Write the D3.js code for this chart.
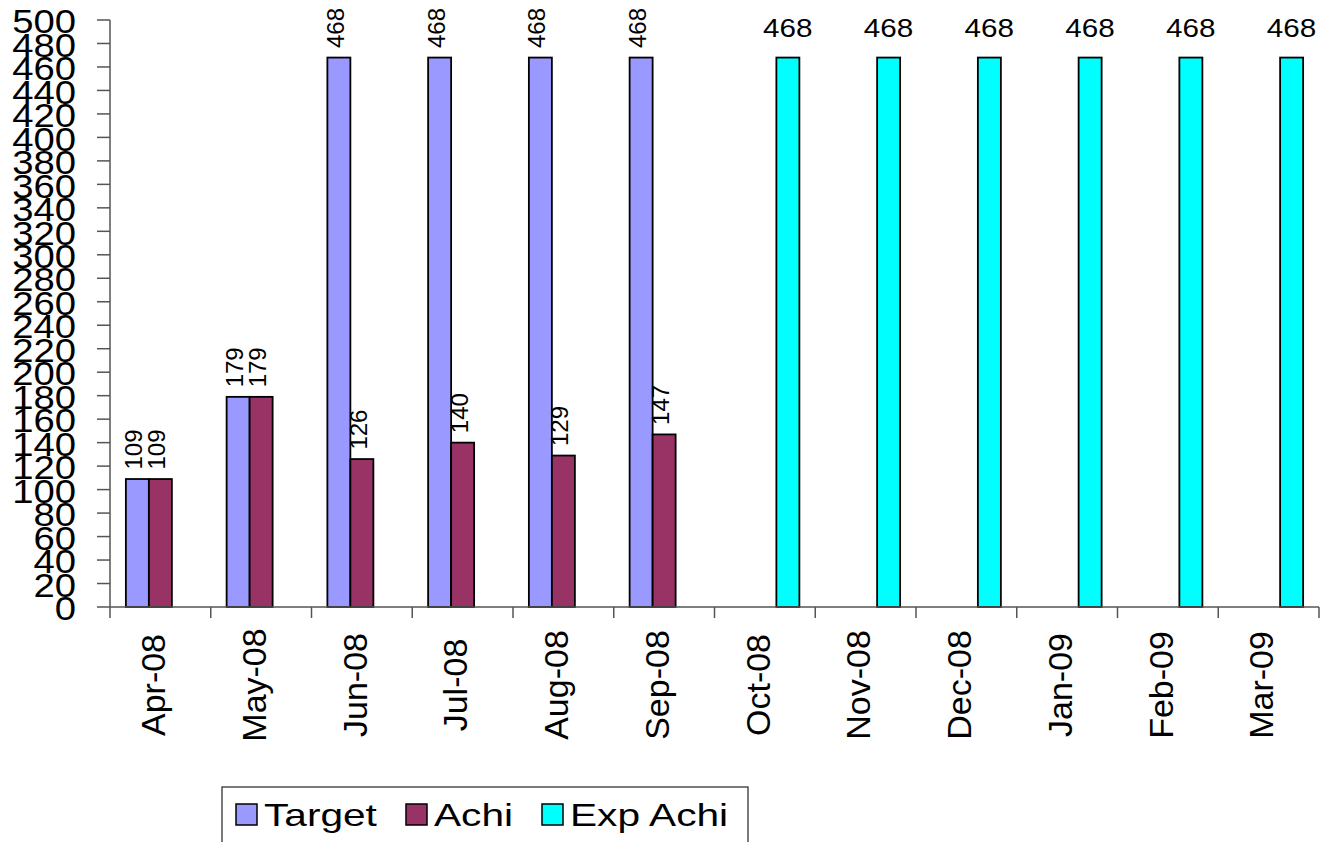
<!DOCTYPE html>
<html>
<head>
<meta charset="utf-8">
<script src="https://cdn.jsdelivr.net/npm/d3@7"></script>
<style>
  body { margin: 0; background: #fff; }
  svg { display: block; font-family: "Liberation Sans", Arial, sans-serif; }
</style>
</head>
<body>
<svg id="chart" width="1322" height="842"></svg>
<script>
// Chart data
const months = ['Apr-08', 'May-08', 'Jun-08', 'Jul-08', 'Aug-08', 'Sep-08',
                'Oct-08', 'Nov-08', 'Dec-08', 'Jan-09', 'Feb-09', 'Mar-09'];
const seriesNames = ['Target', 'Achi', 'Exp Achi'];
const targetValues = [109, 179, 468, 468, 468, 468, null, null, null, null, null, null];
const achiValues = [109, 179, 126, 140, 129, 147, null, null, null, null, null, null];
const expAchiValues = [null, null, null, null, null, null, 468, 468, 468, 468, 468, 468];
const yTicks = d3.range(0, 501, 20);

const colors = ['#9999ff', '#993366', '#00ffff'];
const seriesValues = [targetValues, achiValues, expAchiValues];

let svg = d3.select('#chart');

// plot area
const plotLeft = 110, plotRight = 1319, plotTop = 20, plotBottom = 607;

let x0 = d3.scaleBand().domain(months).range([plotLeft, plotRight]).padding(0);
const cw = x0.bandwidth();
const bw = 23;
let x1 = d3.scaleBand().domain(seriesNames)
  .range([(cw - 3 * bw) / 2, (cw + 3 * bw) / 2]).padding(0);
let y = d3.scaleLinear().domain([0, 500]).range([plotBottom, plotTop]);

// y axis
let yAxis = svg.append('g');
yAxis.append('line')
  .attr('x1', plotLeft).attr('x2', plotLeft).attr('y1', plotTop).attr('y2', plotBottom)
  .attr('stroke', '#555').attr('stroke-width', 1.5);
yAxis.selectAll('line.tick').data(yTicks).enter().append('line')
  .attr('class', 'tick')
  .attr('x1', 97).attr('x2', plotLeft)
  .attr('y1', d => y(d)).attr('y2', d => y(d))
  .attr('stroke', '#555').attr('stroke-width', 1.5);
yAxis.selectAll('text').data(yTicks).enter().append('text')
  .attr('transform', d => `translate(76,${y(d)}) scale(1.16,1)`)
  .attr('text-anchor', 'end')
  .attr('dy', '0.4em')
  .attr('font-size', 33)
  .text(d => d);

// bars
let groups = svg.selectAll('g.month').data(months).enter().append('g')
  .attr('class', 'month')
  .attr('transform', d => `translate(${x0(d)},0)`);

seriesNames.forEach((name, si) => {
  groups.filter((d, i) => seriesValues[si][i] != null)
    .append('rect')
    .attr('x', x1(name))
    .attr('width', x1.bandwidth())
    .attr('y', d => y(seriesValues[si][months.indexOf(d)]))
    .attr('height', d => plotBottom - y(seriesValues[si][months.indexOf(d)]))
    .attr('fill', colors[si])
    .attr('stroke', '#000')
    .attr('stroke-width', 1.8);
});

// value labels: vertical for Target / Achi, horizontal for Exp Achi
[0, 1].forEach(si => {
  groups.filter((d, i) => seriesValues[si][i] != null)
    .append('text')
    .attr('transform', d => {
      let v = seriesValues[si][months.indexOf(d)];
      let cx = x1(seriesNames[si]) + x1.bandwidth() / 2;
      return `translate(${cx + 5},${y(v) - 9.5}) rotate(-90)`;
    })
    .attr('font-size', 24)
    .text(d => seriesValues[si][months.indexOf(d)]);
});
groups.filter((d, i) => expAchiValues[i] != null)
  .append('text')
  .attr('transform', d => {
    let v = expAchiValues[months.indexOf(d)];
    let cx = x1('Exp Achi') + x1.bandwidth() / 2;
    return `translate(${cx},${y(v) - 20.5}) scale(1.12,1)`;
  })
  .attr('text-anchor', 'middle')
  .attr('font-size', 26.5)
  .text(d => expAchiValues[months.indexOf(d)]);

// x axis
let xAxis = svg.append('g');
xAxis.append('line')
  .attr('x1', plotLeft).attr('x2', plotRight).attr('y1', plotBottom).attr('y2', plotBottom)
  .attr('stroke', '#555').attr('stroke-width', 1.5);
xAxis.selectAll('line.tick').data(months.concat(['end'])).enter().append('line')
  .attr('class', 'tick')
  .attr('x1', (d, i) => plotLeft + i * cw).attr('x2', (d, i) => plotLeft + i * cw)
  .attr('y1', plotBottom).attr('y2', plotBottom + 11)
  .attr('stroke', '#555').attr('stroke-width', 1.5);
xAxis.selectAll('text').data(months).enter().append('text')
  .attr('transform', d => `translate(${x0(d) + cw / 2 - 7.5},685) rotate(-90)`)
  .attr('text-anchor', 'middle')
  .attr('dy', '0.36em')
  .attr('font-size', 34)
  .text(d => d);

// legend
let legend = svg.append('g');
legend.append('rect')
  .attr('x', 222).attr('y', 787).attr('width', 526).attr('height', 80)
  .attr('fill', '#fff').attr('stroke', '#222').attr('stroke-width', 1.2);
const legendX = [236, 406, 542];
seriesNames.forEach((name, i) => {
  legend.append('rect')
    .attr('x', legendX[i]).attr('y', 804).attr('width', 21).attr('height', 21)
    .attr('fill', colors[i]).attr('stroke', '#000').attr('stroke-width', 1.5);
  legend.append('text')
    .attr('transform', `translate(${legendX[i] + 28},826) scale(1.27,1)`)
    .attr('font-size', 32)
    .text(name);
});
</script>
</body>
</html>
